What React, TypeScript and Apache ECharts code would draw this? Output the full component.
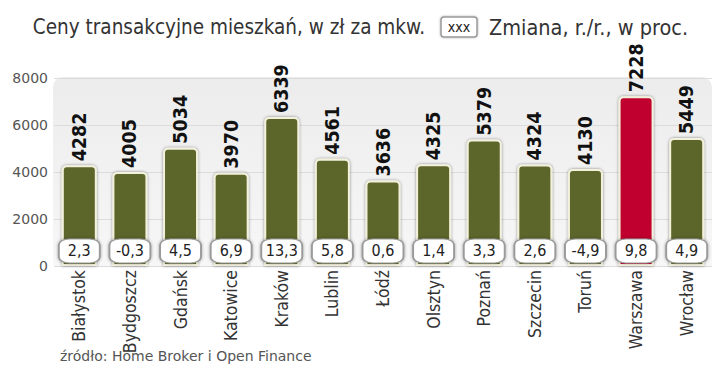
import React, { useEffect, useRef } from "react";
import * as echarts from "echarts";

const cities = ["Białystok", "Bydgoszcz", "Gdańsk", "Katowice", "Kraków", "Lublin", "Łódź", "Olsztyn", "Poznań", "Szczecin", "Toruń", "Warszawa", "Wrocław"];
const prices = [4282, 4005, 5034, 3970, 6339, 4561, 3636, 4325, 5379, 4324, 4130, 7228, 5449];
const changes = ["2,3", "-0,3", "4,5", "6,9", "13,3", "5,8", "0,6", "1,4", "3,3", "2,6", "-4,9", "9,8", "4,9"];
const highlighted = "Warszawa";
const yTicks = { min: 0, max: 8000, interval: 2000 };
const titleLeft = "Ceny transakcyjne mieszkań, w zł za mkw.";
const titleRight = "Zmiana, r./r., w proc.";
const legendSample = "xxx";
const sourceText = "źródło: Home Broker i Open Finance";

const OLIVE = "#5b652a";
const RED = "#c0002e";
const COND = "'DejaVu Sans Condensed', sans-serif";

export default function App() {
  const ref = useRef<HTMLDivElement>(null);
  useEffect(() => {
    if (!ref.current) return;
    const chart = echarts.init(ref.current, undefined, { renderer: "svg" });
    const BOX_VALUE = 640;
    chart.setOption({
      animation: false,
      backgroundColor: "#ffffff",
      grid: { left: 54, right: 8, top: 78, bottom: 109, containLabel: false },
      graphic: [
        {
          type: "rect",
          z: -1,
          shape: { x: 53, y: 77, width: 659, height: 189, r: [10, 10, 0, 0] },
          style: {
            fill: new echarts.graphic.LinearGradient(0, 0, 0, 1, [
              { offset: 0, color: "#ececec" },
              { offset: 1, color: "#f7f7f7" },
            ]),
          },
        },
        {
          type: "text",
          right: 295,
          top: 16,
          style: { text: titleLeft, font: `20.5px ${COND}`, fill: "#333" },
        },
        {
          type: "rect",
          shape: { x: 441, y: 17, width: 36, height: 20, r: 3 },
          style: { fill: "#fff", stroke: "#999", lineWidth: 1.5, shadowBlur: 2, shadowColor: "rgba(0,0,0,0.3)" },
        },
        {
          type: "text",
          x: 459,
          y: 27,
          style: { text: legendSample, font: `14px ${COND}`, fill: "#222", align: "center", verticalAlign: "middle" },
        },
        {
          type: "text",
          left: 489,
          top: 16,
          style: { text: titleRight, font: `21.5px ${COND}`, fill: "#333" },
        },
        {
          type: "text",
          left: 60,
          top: 349,
          style: { text: sourceText, font: "14px 'DejaVu Sans', sans-serif", fill: "#555" },
        },
      ],
      xAxis: {
        type: "category",
        data: cities,
        axisLine: { show: false },
        axisTick: { show: false },
        axisLabel: {
          rotate: 90,
          interval: 0,
          margin: 4,
          color: "#333",
          fontSize: 17.5,
          fontFamily: COND,
        },
      },
      yAxis: {
        type: "value",
        min: yTicks.min,
        max: yTicks.max,
        interval: yTicks.interval,
        axisLine: { show: false },
        axisTick: { show: false },
        axisLabel: {
          color: "#555",
          fontSize: 14,
          fontFamily: "'DejaVu Sans', sans-serif",
          margin: 6,
          formatter: (v: number) => String(v),
        },
        splitLine: { show: true, lineStyle: { color: "#dcdcdc", width: 1 } },
      },
      series: [
        {
          type: "bar",
          barWidth: 35,
          data: prices.map((v, i) => ({
            value: v,
            itemStyle: { color: cities[i] === highlighted ? RED : OLIVE },
          })),
          itemStyle: {
            borderColor: "#f3f1dc",
            borderWidth: 2,
            borderRadius: [4, 4, 0, 0],
            shadowBlur: 3,
            shadowColor: "rgba(0,0,0,0.45)",
          },
          label: {
            show: true,
            position: "top",
            rotate: 90,
            align: "left",
            verticalAlign: "middle",
            distance: 4,
            color: "#111",
            fontSize: 19.5,
            fontWeight: "bold",
            fontFamily: COND,
          },
        },
        {
          type: "scatter",
          z: 5,
          symbol: "roundRect",
          symbolSize: [41, 24],
          data: changes.map((c, i) => ({ value: [i, BOX_VALUE], name: c })),
          itemStyle: {
            color: "#ffffff",
            borderColor: "#9a9a9a",
            borderWidth: 1.5,
            shadowBlur: 3,
            shadowColor: "rgba(0,0,0,0.35)",
            opacity: 1,
          },
          label: {
            show: true,
            position: "inside",
            formatter: (p: any) => p.name,
            color: "#222",
            fontSize: 16,
            fontFamily: COND,
          },
        },
      ],
    });
    return () => chart.dispose();
  }, []);
  return <div ref={ref} style={{ width: 720, height: 375, margin: -8 }} />;
}
